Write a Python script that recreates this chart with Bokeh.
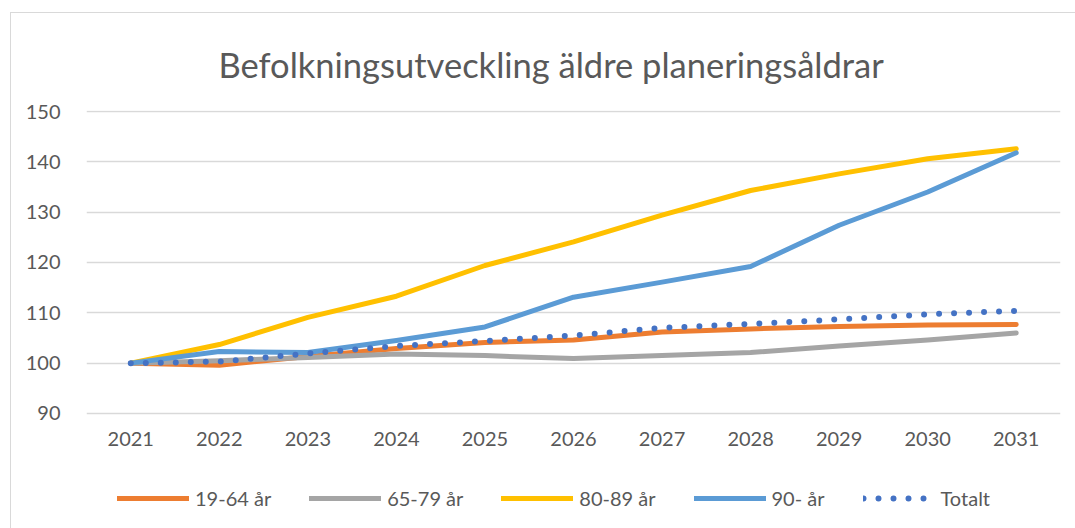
from bokeh.plotting import figure
from bokeh.models import FactorRange, Range1d, FixedTicker, Legend, LegendItem
from bokeh.embed import file_html
from bokeh.resources import INLINE

years = ["2021", "2022", "2023", "2024", "2025", "2026", "2027", "2028", "2029", "2030", "2031"]
y_ticks = [90, 100, 110, 120, 130, 140, 150]

s_19_64 = [100, 99.6, 101.3, 102.9, 104.1, 104.6, 106.2, 106.8, 107.3, 107.6, 107.7]
s_65_79 = [100, 100.5, 101.1, 101.8, 101.5, 100.9, 101.5, 102.1, 103.4, 104.6, 106.0]
s_80_89 = [100, 103.7, 109.1, 113.3, 119.4, 124.1, 129.4, 134.3, 137.6, 140.6, 142.6]
s_90 = [100, 102.3, 102.1, 104.5, 107.2, 113.1, 116.1, 119.2, 127.4, 134.0, 141.8]
s_total = [100, 100.3, 101.9, 103.4, 104.4, 105.5, 107.0, 107.8, 108.7, 109.7, 110.4]

series = [
    ("19-64 år", s_19_64, "#ED7D31", "solid", 5),
    ("65-79 år", s_65_79, "#A5A5A5", "solid", 5),
    ("80-89 år", s_80_89, "#FFC000", "solid", 5),
    ("90- år", s_90, "#5B9BD5", "solid", 5),
    ("Totalt", s_total, "#4472C4", "0 15", 6),
]

TXT = "#595959"
FONT = "Lato"

# the frame is extended below the value 90 so that the legend can sit inside it
p = figure(
    x_range=FactorRange(factors=years, range_padding=0),
    y_range=Range1d(67.74, 150.2),
    frame_width=974, frame_height=415,
    width=1064, height=515,
    min_border_left=75, min_border_right=15,
    min_border_top=97, min_border_bottom=3,
    output_backend="svg", toolbar_location=None,
)
p.styles = {"margin-left": "10px", "margin-top": "12px",
            "border-top": "1px solid #D9D9D9", "border-left": "1px solid #D9D9D9",
            "border-right": "none", "border-bottom": "none"}

p.title.text = "Befolkningsutveckling äldre planeringsåldrar"
p.title.text_font = FONT
p.title.text_font_size = "34.5px"
p.title.text_font_style = "normal"
p.title.text_color = TXT
p.title.align = "left"
p.title.offset = 132
p.title.standoff = 52

p.outline_line_color = None
p.background_fill_color = "white"
p.border_fill_color = "white"

p.xgrid.grid_line_color = None
p.ygrid.grid_line_color = "#D9D9D9"
p.ygrid.grid_line_width = 1.3
p.yaxis.ticker = FixedTicker(ticks=y_ticks)

for ax in (p.xaxis, p.yaxis):
    ax.axis_line_color = None
    ax.major_tick_line_color = None
    ax.minor_tick_line_color = None
    ax.major_tick_out = 0
    ax.major_tick_in = 0
    ax.major_label_text_font = FONT
    ax.major_label_text_font_size = "20px"
    ax.major_label_text_color = TXT
p.xaxis.fixed_location = 89.8
p.xaxis.major_label_standoff = 18
p.yaxis.major_label_standoff = 26

items = []
for name, vals, color, dash, lw in series:
    r = p.line(years, vals, line_color=color, line_width=lw, line_dash=dash,
               line_cap="round", line_join="round")
    items.append(LegendItem(label=name, renderers=[r]))

legend = Legend(items=items, orientation="horizontal", location=(31, 15),
                glyph_width=72, glyph_height=20, label_standoff=6, spacing=38,
                margin=0, padding=0, border_line_color=None, background_fill_alpha=0,
                label_text_font=FONT, label_text_font_size="20px", label_text_color=TXT)
p.add_layout(legend, "center")

open("out.html", "w").write(file_html(p, INLINE))
